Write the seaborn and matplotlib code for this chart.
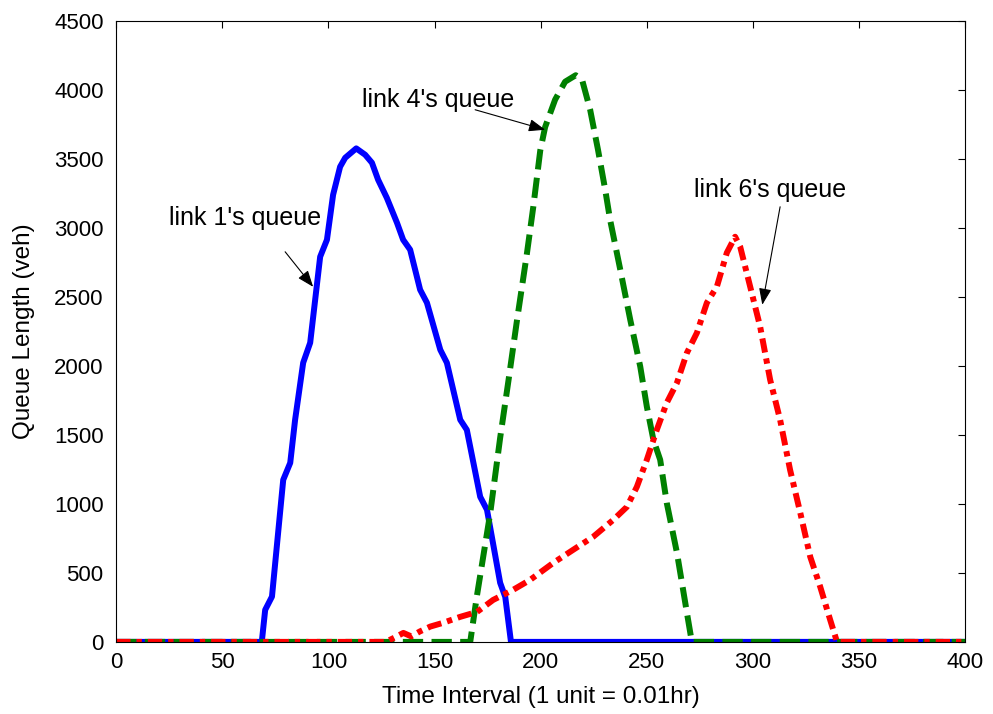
import matplotlib
matplotlib.use("Agg")
import matplotlib.pyplot as plt
import seaborn as sns
import pandas as pd

# ---- data ----
link1_x = [0, 68.6, 70.2, 73.4, 78.7, 82.0, 84.3, 88.1, 91.4, 96.1, 99.3, 102.2, 105.5, 107.9,
           113.1, 117.3, 120.5, 123.4, 127.5, 132.3, 135.2, 138.5, 143.2, 146.4, 152.7, 155.8,
           162.1, 165.2, 171.5, 174.7, 180.9, 183.3, 186.0, 400]
link1_y = [0, 0, 232, 328, 1174, 1297, 1609, 2022, 2167, 2790, 2913, 3239, 3442, 3507,
           3575, 3529, 3471, 3348, 3217, 3036, 2913, 2841, 2551, 2457, 2116, 2022,
           1609, 1536, 1051, 957, 428, 326, 0, 0]

link4_x = [0, 166.8, 169.9, 176.2, 180.9, 184.8, 188.8, 193.5, 196.5, 199.8, 202.1, 206.8,
           211.5, 216.5, 219.5, 223.3, 227.0, 230.4, 232.7, 237.5, 242.2, 246.9, 250.0,
           253.1, 256.3, 259.4, 264.2, 268.9, 271.2, 400]
link4_y = [0, 0, 328, 930, 1478, 1891, 2326, 2812, 3150, 3560, 3730, 3928,
           4058, 4105, 4072, 3855, 3565, 3275, 3058, 2696, 2333, 1995, 1705,
           1464, 1319, 1007, 645, 210, 0, 0]

link6_x = [0, 127.0, 131.0, 135.3, 139.0, 143.0, 148.0, 154.0, 162.0, 170.0, 177.6, 187.0,
           195.0, 205.9, 215.3, 224.7, 234.2, 240.6, 245.3, 250.0, 254.7, 259.4, 264.2,
           268.9, 273.6, 278.3, 283.0, 287.7, 291.6, 294.0, 298.7, 303.4, 308.1, 312.8,
           317.5, 322.3, 327.0, 331.7, 336.4, 339.6, 400]
link6_y = [0, 0, 30, 65, 40, 75, 111, 138, 181, 217, 304, 377,
           449, 572, 667, 761, 884, 978, 1123, 1319, 1536, 1732, 1877,
           2094, 2239, 2457, 2573, 2819, 2935, 2862, 2573, 2283, 1899, 1609,
           1246, 935, 616, 399, 159, 0, 0]

x_ticks = [0, 50, 100, 150, 200, 250, 300, 350, 400]
y_ticks = [0, 500, 1000, 1500, 2000, 2500, 3000, 3500, 4000, 4500]

annotations = [
    ("link 1's queue", (92.8, 2572), (60.8, 3072), (79.6, 2826)),
    ("link 4's queue", (202.1, 3710), (151.7, 3928), (169.1, 3855)),
    ("link 6's queue", (304.4, 2442), (308.1, 3275), (312.8, 3152)),
]

df1 = pd.DataFrame({"t": link1_x, "q": link1_y})
df4 = pd.DataFrame({"t": link4_x, "q": link4_y})
df6 = pd.DataFrame({"t": link6_x, "q": link6_y})

sns.set_style("white")
plt.rcParams["font.family"] = ["Liberation Sans", "DejaVu Sans"]
plt.rcParams["text.color"] = "black"
plt.rcParams["axes.labelcolor"] = "black"

fig = plt.figure(figsize=(9.93, 7.14), dpi=100)
ax = fig.add_axes([0.117, 0.101, 0.855, 0.870])

lw = 4.3
sns.lineplot(data=df1, x="t", y="q", ax=ax, color="#0000ff", linewidth=lw,
             linestyle="-", sort=False)
sns.lineplot(data=df4, x="t", y="q", ax=ax, color="#008000", linewidth=lw,
             linestyle=(0, (3.4, 1.4)), sort=False, dash_capstyle="butt")
sns.lineplot(data=df6, x="t", y="q", ax=ax, color="#ff0000", linewidth=lw,
             linestyle=(0, (2.4, 1.0, 0.9, 1.0)), sort=False, dash_capstyle="butt")

for text, tip, txt, tail in annotations:
    ax.annotate("", xy=tip, xytext=tail,
                arrowprops=dict(arrowstyle="-|>,head_length=1.0,head_width=0.38",
                                color="black", lw=0.8, shrinkA=0, shrinkB=0))
    ax.text(txt[0], txt[1], text, ha="center", va="center", fontsize=18, color="black")

ax.set_xlim(0, 400)
ax.set_ylim(0, 4500)
ax.set_xticks(x_ticks)
ax.set_yticks(y_ticks)
ax.tick_params(direction="in", top=True, right=True, length=5, width=0.8,
               labelsize=16, colors="black")
ax.tick_params(axis="x", pad=7)
ax.tick_params(axis="y", pad=9)
for s in ax.spines.values():
    s.set_color("black")
    s.set_linewidth(0.8)
ax.set_xlabel("Time Interval (1 unit = 0.01hr)", fontsize=17.5, labelpad=10)
ax.set_ylabel("Queue Length (veh)", fontsize=17.5, labelpad=14)

fig.savefig("out.png", dpi=100)
